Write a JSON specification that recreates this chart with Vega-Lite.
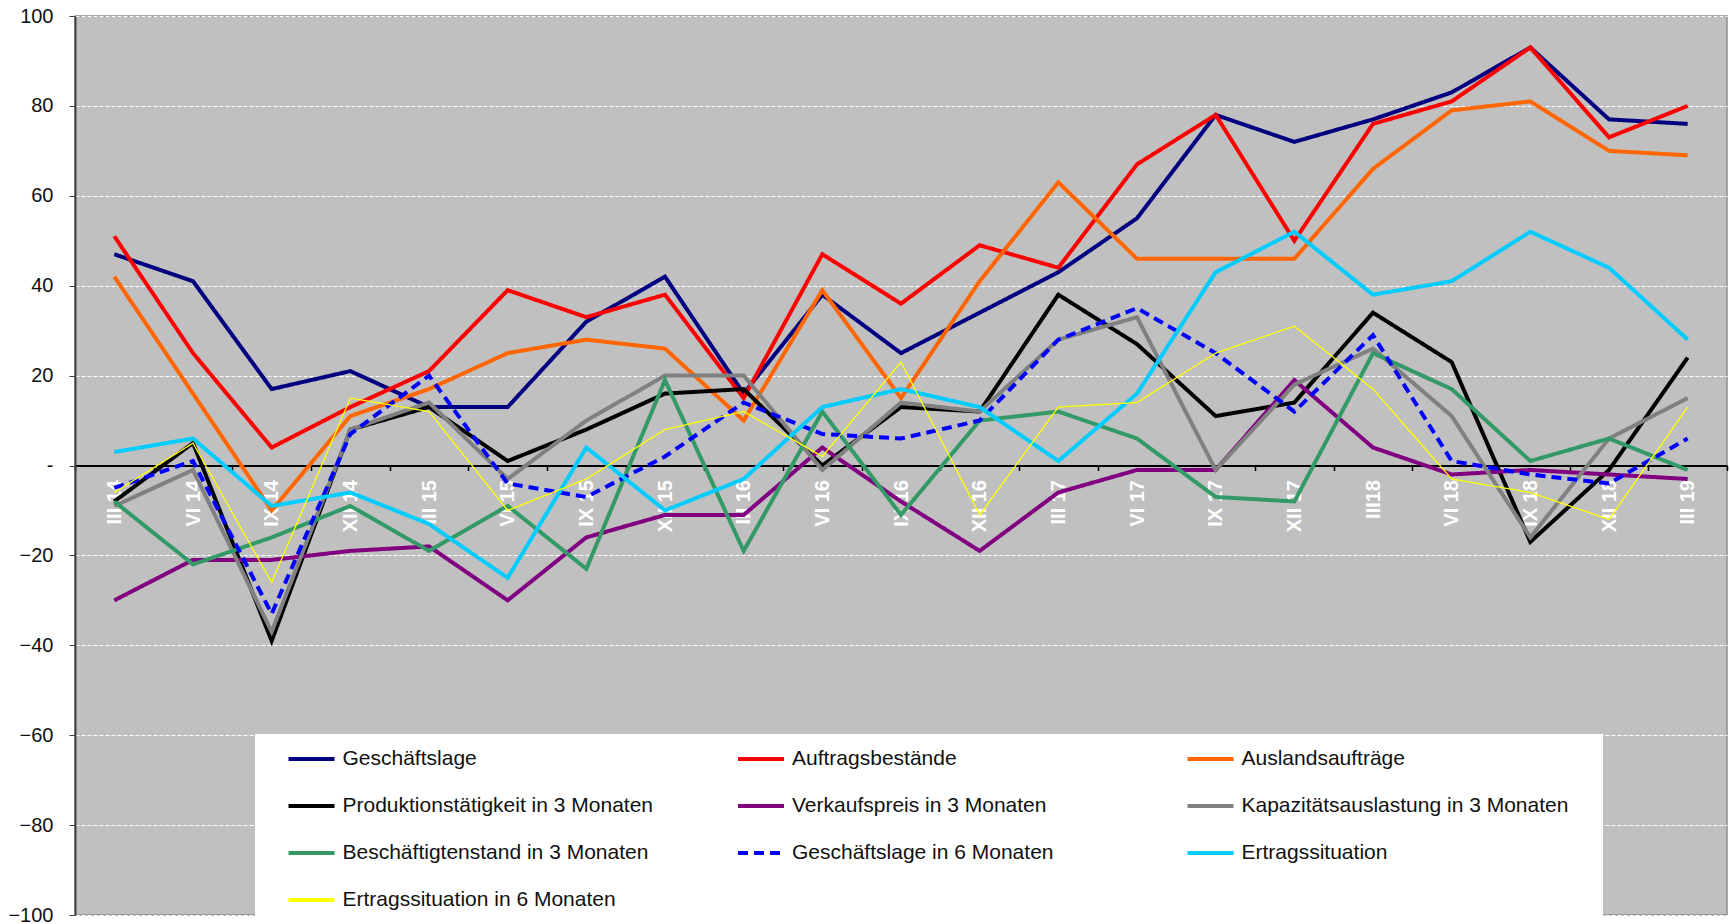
{
  "$schema": "https://vega.github.io/schema/vega-lite/v6.json",
  "width": 1652,
  "height": 899,
  "autosize": {"type": "none"},
  "padding": {"left": 75, "top": 16, "right": 3, "bottom": 9},
  "background": "white",
  "config": {
    "font": "Liberation Sans",
    "view": {"fill": "#C0C0C0", "stroke": "#8C8C8C", "strokeWidth": 1.5},
    "legend": {
      "orient": "none", "legendX": 180, "legendY": 718, "columns": 3, "direction": "horizontal", "gridAlign": "all",
      "columnPadding": 34.5, "rowPadding": 12, "padding": 0, "fillColor": "white",
      "symbolType": "stroke", "symbolSize": 2116, "symbolOffset": 31.5, "labelOffset": 6, "symbolStrokeWidth": 4,
      "labelFontSize": 21, "labelColor": "#111", "labelLimit": 600,
      "titleOrient": "right", "titlePadding": 35, "titleFontSize": 210, "titleBaseline": "top", "titleLimit": 1000
    }
  },
  "data": {"values": [
    {"q":"III 14","s":"Geschäftslage","v":47},{"q":"VI 14","s":"Geschäftslage","v":41},{"q":"IX 14","s":"Geschäftslage","v":17},{"q":"XII 14","s":"Geschäftslage","v":21},{"q":"III 15","s":"Geschäftslage","v":13},{"q":"VI 15","s":"Geschäftslage","v":13},{"q":"IX 15","s":"Geschäftslage","v":32},{"q":"XII 15","s":"Geschäftslage","v":42},{"q":"III 16","s":"Geschäftslage","v":16},{"q":"VI 16","s":"Geschäftslage","v":38},{"q":"IX 16","s":"Geschäftslage","v":25},{"q":"XII 16","s":"Geschäftslage","v":34},{"q":"III 17","s":"Geschäftslage","v":43},{"q":"VI 17","s":"Geschäftslage","v":55},{"q":"IX 17","s":"Geschäftslage","v":78},{"q":"XII 17","s":"Geschäftslage","v":72},{"q":"III18","s":"Geschäftslage","v":77},{"q":"VI 18","s":"Geschäftslage","v":83},{"q":"IX 18","s":"Geschäftslage","v":93},{"q":"XII 18","s":"Geschäftslage","v":77},{"q":"III 19","s":"Geschäftslage","v":76},
    {"q":"III 14","s":"Auftragsbestände","v":51},{"q":"VI 14","s":"Auftragsbestände","v":25},{"q":"IX 14","s":"Auftragsbestände","v":4},{"q":"XII 14","s":"Auftragsbestände","v":13},{"q":"III 15","s":"Auftragsbestände","v":21},{"q":"VI 15","s":"Auftragsbestände","v":39},{"q":"IX 15","s":"Auftragsbestände","v":33},{"q":"XII 15","s":"Auftragsbestände","v":38},{"q":"III 16","s":"Auftragsbestände","v":15},{"q":"VI 16","s":"Auftragsbestände","v":47},{"q":"IX 16","s":"Auftragsbestände","v":36},{"q":"XII 16","s":"Auftragsbestände","v":49},{"q":"III 17","s":"Auftragsbestände","v":44},{"q":"VI 17","s":"Auftragsbestände","v":67},{"q":"IX 17","s":"Auftragsbestände","v":78},{"q":"XII 17","s":"Auftragsbestände","v":50},{"q":"III18","s":"Auftragsbestände","v":76},{"q":"VI 18","s":"Auftragsbestände","v":81},{"q":"IX 18","s":"Auftragsbestände","v":93},{"q":"XII 18","s":"Auftragsbestände","v":73},{"q":"III 19","s":"Auftragsbestände","v":80},
    {"q":"III 14","s":"Auslandsaufträge","v":42},{"q":"VI 14","s":"Auslandsaufträge","v":16},{"q":"IX 14","s":"Auslandsaufträge","v":-10},{"q":"XII 14","s":"Auslandsaufträge","v":11},{"q":"III 15","s":"Auslandsaufträge","v":17},{"q":"VI 15","s":"Auslandsaufträge","v":25},{"q":"IX 15","s":"Auslandsaufträge","v":28},{"q":"XII 15","s":"Auslandsaufträge","v":26},{"q":"III 16","s":"Auslandsaufträge","v":10},{"q":"VI 16","s":"Auslandsaufträge","v":39},{"q":"IX 16","s":"Auslandsaufträge","v":15},{"q":"XII 16","s":"Auslandsaufträge","v":41},{"q":"III 17","s":"Auslandsaufträge","v":63},{"q":"VI 17","s":"Auslandsaufträge","v":46},{"q":"IX 17","s":"Auslandsaufträge","v":46},{"q":"XII 17","s":"Auslandsaufträge","v":46},{"q":"III18","s":"Auslandsaufträge","v":66},{"q":"VI 18","s":"Auslandsaufträge","v":79},{"q":"IX 18","s":"Auslandsaufträge","v":81},{"q":"XII 18","s":"Auslandsaufträge","v":70},{"q":"III 19","s":"Auslandsaufträge","v":69},
    {"q":"III 14","s":"Produktionstätigkeit in 3 Monaten","v":-8},{"q":"VI 14","s":"Produktionstätigkeit in 3 Monaten","v":5},{"q":"IX 14","s":"Produktionstätigkeit in 3 Monaten","v":-39},{"q":"XII 14","s":"Produktionstätigkeit in 3 Monaten","v":8},{"q":"III 15","s":"Produktionstätigkeit in 3 Monaten","v":13},{"q":"VI 15","s":"Produktionstätigkeit in 3 Monaten","v":1},{"q":"IX 15","s":"Produktionstätigkeit in 3 Monaten","v":8},{"q":"XII 15","s":"Produktionstätigkeit in 3 Monaten","v":16},{"q":"III 16","s":"Produktionstätigkeit in 3 Monaten","v":17},{"q":"VI 16","s":"Produktionstätigkeit in 3 Monaten","v":0},{"q":"IX 16","s":"Produktionstätigkeit in 3 Monaten","v":13},{"q":"XII 16","s":"Produktionstätigkeit in 3 Monaten","v":12},{"q":"III 17","s":"Produktionstätigkeit in 3 Monaten","v":38},{"q":"VI 17","s":"Produktionstätigkeit in 3 Monaten","v":27},{"q":"IX 17","s":"Produktionstätigkeit in 3 Monaten","v":11},{"q":"XII 17","s":"Produktionstätigkeit in 3 Monaten","v":14},{"q":"III18","s":"Produktionstätigkeit in 3 Monaten","v":34},{"q":"VI 18","s":"Produktionstätigkeit in 3 Monaten","v":23},{"q":"IX 18","s":"Produktionstätigkeit in 3 Monaten","v":-17},{"q":"XII 18","s":"Produktionstätigkeit in 3 Monaten","v":-1},{"q":"III 19","s":"Produktionstätigkeit in 3 Monaten","v":24},
    {"q":"III 14","s":"Verkaufspreis in 3 Monaten","v":-30},{"q":"VI 14","s":"Verkaufspreis in 3 Monaten","v":-21},{"q":"IX 14","s":"Verkaufspreis in 3 Monaten","v":-21},{"q":"XII 14","s":"Verkaufspreis in 3 Monaten","v":-19},{"q":"III 15","s":"Verkaufspreis in 3 Monaten","v":-18},{"q":"VI 15","s":"Verkaufspreis in 3 Monaten","v":-30},{"q":"IX 15","s":"Verkaufspreis in 3 Monaten","v":-16},{"q":"XII 15","s":"Verkaufspreis in 3 Monaten","v":-11},{"q":"III 16","s":"Verkaufspreis in 3 Monaten","v":-11},{"q":"VI 16","s":"Verkaufspreis in 3 Monaten","v":4},{"q":"IX 16","s":"Verkaufspreis in 3 Monaten","v":-8},{"q":"XII 16","s":"Verkaufspreis in 3 Monaten","v":-19},{"q":"III 17","s":"Verkaufspreis in 3 Monaten","v":-6},{"q":"VI 17","s":"Verkaufspreis in 3 Monaten","v":-1},{"q":"IX 17","s":"Verkaufspreis in 3 Monaten","v":-1},{"q":"XII 17","s":"Verkaufspreis in 3 Monaten","v":19},{"q":"III18","s":"Verkaufspreis in 3 Monaten","v":4},{"q":"VI 18","s":"Verkaufspreis in 3 Monaten","v":-2},{"q":"IX 18","s":"Verkaufspreis in 3 Monaten","v":-1},{"q":"XII 18","s":"Verkaufspreis in 3 Monaten","v":-2},{"q":"III 19","s":"Verkaufspreis in 3 Monaten","v":-3},
    {"q":"III 14","s":"Kapazitätsauslastung in 3 Monaten","v":-9},{"q":"VI 14","s":"Kapazitätsauslastung in 3 Monaten","v":-1},{"q":"IX 14","s":"Kapazitätsauslastung in 3 Monaten","v":-37},{"q":"XII 14","s":"Kapazitätsauslastung in 3 Monaten","v":8},{"q":"III 15","s":"Kapazitätsauslastung in 3 Monaten","v":14},{"q":"VI 15","s":"Kapazitätsauslastung in 3 Monaten","v":-3},{"q":"IX 15","s":"Kapazitätsauslastung in 3 Monaten","v":10},{"q":"XII 15","s":"Kapazitätsauslastung in 3 Monaten","v":20},{"q":"III 16","s":"Kapazitätsauslastung in 3 Monaten","v":20},{"q":"VI 16","s":"Kapazitätsauslastung in 3 Monaten","v":-1},{"q":"IX 16","s":"Kapazitätsauslastung in 3 Monaten","v":14},{"q":"XII 16","s":"Kapazitätsauslastung in 3 Monaten","v":12},{"q":"III 17","s":"Kapazitätsauslastung in 3 Monaten","v":28},{"q":"VI 17","s":"Kapazitätsauslastung in 3 Monaten","v":33},{"q":"IX 17","s":"Kapazitätsauslastung in 3 Monaten","v":-1},{"q":"XII 17","s":"Kapazitätsauslastung in 3 Monaten","v":18},{"q":"III18","s":"Kapazitätsauslastung in 3 Monaten","v":26},{"q":"VI 18","s":"Kapazitätsauslastung in 3 Monaten","v":11},{"q":"IX 18","s":"Kapazitätsauslastung in 3 Monaten","v":-16},{"q":"XII 18","s":"Kapazitätsauslastung in 3 Monaten","v":6},{"q":"III 19","s":"Kapazitätsauslastung in 3 Monaten","v":15},
    {"q":"III 14","s":"Beschäftigtenstand in 3 Monaten","v":-8},{"q":"VI 14","s":"Beschäftigtenstand in 3 Monaten","v":-22},{"q":"IX 14","s":"Beschäftigtenstand in 3 Monaten","v":-16},{"q":"XII 14","s":"Beschäftigtenstand in 3 Monaten","v":-9},{"q":"III 15","s":"Beschäftigtenstand in 3 Monaten","v":-19},{"q":"VI 15","s":"Beschäftigtenstand in 3 Monaten","v":-9},{"q":"IX 15","s":"Beschäftigtenstand in 3 Monaten","v":-23},{"q":"XII 15","s":"Beschäftigtenstand in 3 Monaten","v":19},{"q":"III 16","s":"Beschäftigtenstand in 3 Monaten","v":-19},{"q":"VI 16","s":"Beschäftigtenstand in 3 Monaten","v":12},{"q":"IX 16","s":"Beschäftigtenstand in 3 Monaten","v":-11},{"q":"XII 16","s":"Beschäftigtenstand in 3 Monaten","v":10},{"q":"III 17","s":"Beschäftigtenstand in 3 Monaten","v":12},{"q":"VI 17","s":"Beschäftigtenstand in 3 Monaten","v":6},{"q":"IX 17","s":"Beschäftigtenstand in 3 Monaten","v":-7},{"q":"XII 17","s":"Beschäftigtenstand in 3 Monaten","v":-8},{"q":"III18","s":"Beschäftigtenstand in 3 Monaten","v":25},{"q":"VI 18","s":"Beschäftigtenstand in 3 Monaten","v":17},{"q":"IX 18","s":"Beschäftigtenstand in 3 Monaten","v":1},{"q":"XII 18","s":"Beschäftigtenstand in 3 Monaten","v":6},{"q":"III 19","s":"Beschäftigtenstand in 3 Monaten","v":-1},
    {"q":"III 14","s":"Geschäftslage in 6 Monaten","v":-5},{"q":"VI 14","s":"Geschäftslage in 6 Monaten","v":1},{"q":"IX 14","s":"Geschäftslage in 6 Monaten","v":-33},{"q":"XII 14","s":"Geschäftslage in 6 Monaten","v":7},{"q":"III 15","s":"Geschäftslage in 6 Monaten","v":20},{"q":"VI 15","s":"Geschäftslage in 6 Monaten","v":-4},{"q":"IX 15","s":"Geschäftslage in 6 Monaten","v":-7},{"q":"XII 15","s":"Geschäftslage in 6 Monaten","v":2},{"q":"III 16","s":"Geschäftslage in 6 Monaten","v":14},{"q":"VI 16","s":"Geschäftslage in 6 Monaten","v":7},{"q":"IX 16","s":"Geschäftslage in 6 Monaten","v":6},{"q":"XII 16","s":"Geschäftslage in 6 Monaten","v":10},{"q":"III 17","s":"Geschäftslage in 6 Monaten","v":28},{"q":"VI 17","s":"Geschäftslage in 6 Monaten","v":35},{"q":"IX 17","s":"Geschäftslage in 6 Monaten","v":25},{"q":"XII 17","s":"Geschäftslage in 6 Monaten","v":12},{"q":"III18","s":"Geschäftslage in 6 Monaten","v":29},{"q":"VI 18","s":"Geschäftslage in 6 Monaten","v":1},{"q":"IX 18","s":"Geschäftslage in 6 Monaten","v":-2},{"q":"XII 18","s":"Geschäftslage in 6 Monaten","v":-4},{"q":"III 19","s":"Geschäftslage in 6 Monaten","v":6},
    {"q":"III 14","s":"Ertragssituation","v":3},{"q":"VI 14","s":"Ertragssituation","v":6},{"q":"IX 14","s":"Ertragssituation","v":-9},{"q":"XII 14","s":"Ertragssituation","v":-6},{"q":"III 15","s":"Ertragssituation","v":-13},{"q":"VI 15","s":"Ertragssituation","v":-25},{"q":"IX 15","s":"Ertragssituation","v":4},{"q":"XII 15","s":"Ertragssituation","v":-10},{"q":"III 16","s":"Ertragssituation","v":-3},{"q":"VI 16","s":"Ertragssituation","v":13},{"q":"IX 16","s":"Ertragssituation","v":17},{"q":"XII 16","s":"Ertragssituation","v":13},{"q":"III 17","s":"Ertragssituation","v":1},{"q":"VI 17","s":"Ertragssituation","v":16},{"q":"IX 17","s":"Ertragssituation","v":43},{"q":"XII 17","s":"Ertragssituation","v":52},{"q":"III18","s":"Ertragssituation","v":38},{"q":"VI 18","s":"Ertragssituation","v":41},{"q":"IX 18","s":"Ertragssituation","v":52},{"q":"XII 18","s":"Ertragssituation","v":44},{"q":"III 19","s":"Ertragssituation","v":28},
    {"q":"III 14","s":"Ertragssituation in 6 Monaten","v":-6},{"q":"VI 14","s":"Ertragssituation in 6 Monaten","v":5},{"q":"IX 14","s":"Ertragssituation in 6 Monaten","v":-26},{"q":"XII 14","s":"Ertragssituation in 6 Monaten","v":15},{"q":"III 15","s":"Ertragssituation in 6 Monaten","v":12},{"q":"VI 15","s":"Ertragssituation in 6 Monaten","v":-10},{"q":"IX 15","s":"Ertragssituation in 6 Monaten","v":-3},{"q":"XII 15","s":"Ertragssituation in 6 Monaten","v":8},{"q":"III 16","s":"Ertragssituation in 6 Monaten","v":12},{"q":"VI 16","s":"Ertragssituation in 6 Monaten","v":2},{"q":"IX 16","s":"Ertragssituation in 6 Monaten","v":23},{"q":"XII 16","s":"Ertragssituation in 6 Monaten","v":-11},{"q":"III 17","s":"Ertragssituation in 6 Monaten","v":13},{"q":"VI 17","s":"Ertragssituation in 6 Monaten","v":14},{"q":"IX 17","s":"Ertragssituation in 6 Monaten","v":25},{"q":"XII 17","s":"Ertragssituation in 6 Monaten","v":31},{"q":"III18","s":"Ertragssituation in 6 Monaten","v":17},{"q":"VI 18","s":"Ertragssituation in 6 Monaten","v":-3},{"q":"IX 18","s":"Ertragssituation in 6 Monaten","v":-6},{"q":"XII 18","s":"Ertragssituation in 6 Monaten","v":-12},{"q":"III 19","s":"Ertragssituation in 6 Monaten","v":13}
  ]},
  "mark": {"type": "line"},
  "encoding": {
    "x": {
      "field": "q", "type": "ordinal",
      "sort": ["III 14","VI 14","IX 14","XII 14","III 15","VI 15","IX 15","XII 15","III 16","VI 16","IX 16","XII 16","III 17","VI 17","IX 17","XII 17","III18","VI 18","IX 18","XII 18","III 19"],
      "scale": {"type": "band", "paddingInner": 0, "paddingOuter": 0},
      "axis": {
        "title": null, "orient": "bottom", "offset": -449.5, "grid": false,
        "domainColor": "#000000", "domainWidth": 2,
        "tickBand": "extent", "tickColor": "#000000", "tickWidth": 1.5, "tickSize": 5,
        "labelAngle": -90, "labelColor": "#FFFFFF", "labelFontWeight": "bold", "labelFontSize": 20, "labelPadding": 9
      }
    },
    "y": {
      "field": "v", "type": "quantitative",
      "scale": {"domain": [-100, 100], "nice": false, "zero": false},
      "axis": {
        "title": null, "values": [-100,-80,-60,-40,-20,0,20,40,60,80,100],
        "labelExpr": "datum.value === 0 ? '-\u00a0\u00a0' : datum.label",
        "labelFontSize": 20, "labelColor": "#111111", "labelPadding": 16,
        "tickSize": 6, "tickColor": "#404040", "domainColor": "#404040", "domainWidth": 2,
        "gridColor": "#FFFFFF", "gridDash": [4, 2], "gridWidth": 1, "gridOpacity": 1
      }
    },
    "color": {
      "field": "s", "type": "nominal", "title": "\u00a0",
      "scale": {
        "domain": ["Geschäftslage","Auftragsbestände","Auslandsaufträge","Produktionstätigkeit in 3 Monaten","Verkaufspreis in 3 Monaten","Kapazitätsauslastung in 3 Monaten","Beschäftigtenstand in 3 Monaten","Geschäftslage in 6 Monaten","Ertragssituation","Ertragssituation in 6 Monaten"],
        "range": ["#000080","#FF0000","#FF6600","#000000","#800080","#808080","#339966","#0000FF","#00CCFF","#FFFF00"]
      }
    },
    "strokeDash": {
      "field": "s", "type": "nominal", "title": "\u00a0",
      "scale": {
        "domain": ["Geschäftslage","Auftragsbestände","Auslandsaufträge","Produktionstätigkeit in 3 Monaten","Verkaufspreis in 3 Monaten","Kapazitätsauslastung in 3 Monaten","Beschäftigtenstand in 3 Monaten","Geschäftslage in 6 Monaten","Ertragssituation","Ertragssituation in 6 Monaten"],
        "range": [[1,0],[1,0],[1,0],[1,0],[1,0],[1,0],[1,0],[10,6],[1,0],[1,0]]
      }
    },
    "strokeWidth": {
      "condition": {"test": "datum.s === 'Ertragssituation in 6 Monaten'", "value": 1.3},
      "value": 4
    }
  }
}
